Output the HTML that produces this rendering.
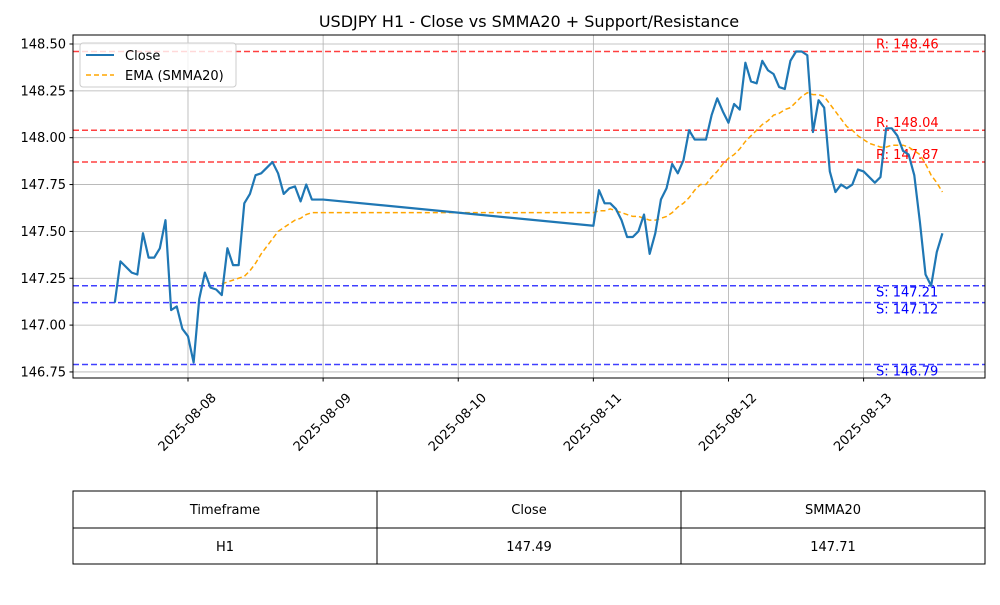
<!DOCTYPE html>
<html><head><meta charset="utf-8"><style>
body{margin:0;background:#fff;font-family:"Liberation Sans","DejaVu Sans",sans-serif}
svg text{font-family:"DejaVu Sans","Liberation Sans",sans-serif}
</style></head><body>
<svg id="chart" width="1000" height="600" viewBox="0 0 1000 600" xmlns="http://www.w3.org/2000/svg">
<rect width="1000" height="600" fill="#fff"/>
<text x="529" y="27" font-size="16" text-anchor="middle">USDJPY H1 - Close vs SMMA20 + Support/Resistance</text>
<g id="grid"></g><g id="levels"></g><g id="series"></g>
<rect x="73" y="35" width="912" height="343" fill="none" stroke="#000" stroke-width="1"/>
<g id="axes"></g>
<g>
<rect x="80" y="43" width="156" height="44" rx="3" fill="#fff" fill-opacity="0.8" stroke="#ccc"/>
<line x1="86" y1="55" x2="114" y2="55" stroke="#1f77b4" stroke-width="2"/>
<text x="125" y="60" font-size="13">Close</text>
<line x1="86" y1="75" x2="114" y2="75" stroke="orange" stroke-width="1.5" stroke-dasharray="5,3"/>
<text x="125" y="80" font-size="13">EMA (SMMA20)</text>
</g>
<g font-size="13" text-anchor="middle">
<rect x="73" y="491" width="912" height="73" fill="none" stroke="#000"/>
<line x1="73" y1="528" x2="985" y2="528" stroke="#000"/>
<line x1="377" y1="491" x2="377" y2="564" stroke="#000"/>
<line x1="681" y1="491" x2="681" y2="564" stroke="#000"/>
<text x="225" y="514">Timeframe</text>
<text x="529" y="514">Close</text>
<text x="833" y="514">SMMA20</text>
<text x="225" y="551">H1</text>
<text x="529" y="551">147.49</text>
<text x="833" y="551">147.71</text>
</g>
</svg>
<script>
const seg1Start = -13;
const seg1Close = [147.12,147.34,147.31,147.28,147.27,147.49,147.36,147.36,147.41,147.56,147.08,147.10,146.98,146.94,146.80,147.14,147.28,147.20,147.19,147.16,147.41,147.32,147.32,147.65,147.70,147.80,147.81,147.84,147.87,147.81,147.70,147.73,147.74,147.66,147.75,147.67,147.67,147.67];
const seg1Ema = [null,null,null,null,null,null,null,null,null,null,null,null,null,null,null,null,null,null,null,147.22,147.23,147.24,147.25,147.26,147.29,147.33,147.38,147.42,147.46,147.50,147.52,147.54,147.56,147.57,147.59,147.60,147.60,147.60];
const seg2Start = 72;
const seg2Close = [147.53,147.72,147.65,147.65,147.62,147.56,147.47,147.47,147.50,147.59,147.38,147.49,147.67,147.73,147.86,147.81,147.88,148.04,147.99,147.99,147.99,148.12,148.21,148.14,148.08,148.18,148.15,148.40,148.30,148.29,148.41,148.36,148.34,148.27,148.26,148.41,148.46,148.46,148.44,148.03,148.20,148.16,147.82,147.71,147.75,147.73,147.75,147.83,147.82,147.79,147.76,147.79,148.05,148.05,148.01,147.93,147.91,147.80,147.55,147.27,147.21,147.39,147.49];
const seg2Ema = [147.60,147.61,147.61,147.62,147.61,147.60,147.59,147.58,147.58,147.57,147.56,147.56,147.57,147.58,147.60,147.63,147.65,147.68,147.72,147.75,147.75,147.79,147.82,147.86,147.89,147.91,147.94,147.98,148.01,148.04,148.07,148.09,148.12,148.13,148.15,148.16,148.19,148.22,148.24,148.23,148.23,148.22,148.18,148.14,148.10,148.06,148.04,148.01,147.99,147.97,147.96,147.95,147.95,147.96,147.96,147.96,147.95,147.93,147.91,147.86,147.80,147.76,147.71];
const resistance = [148.46,148.04,147.87];
const support = [147.21,147.12,146.79];
const yTicks = [148.50,148.25,148.00,147.75,147.50,147.25,147.00,146.75];
const xTickLabels = ["2025-08-08","2025-08-09","2025-08-10","2025-08-11","2025-08-12","2025-08-13"];
const labelHour = 122.2;

const NS="http://www.w3.org/2000/svg";
const X0=73,X1=985,Y0=35,Y1=378;
function xs(h){return 188+h*5.63;}
function ys(v){return 44+(148.5-v)*187.4;}
function mk(tag,attrs,parent){const e=document.createElementNS(NS,tag);for(const k in attrs)e.setAttribute(k,attrs[k]);parent.appendChild(e);return e;}
const grid=document.getElementById('grid'),axes=document.getElementById('axes'),lev=document.getElementById('levels'),ser=document.getElementById('series');

yTicks.forEach(v=>{
  const y=ys(v);
  const g=mk('line',{x1:X0,x2:X1,y1:y,y2:y,stroke:'#b0b0b0','stroke-width':0.8},grid);
  
  
  mk('line',{x1:X0-3.5,x2:X0,y1:y,y2:y,stroke:'#000'},axes);
  const t=mk('text',{x:X0-7,y:y+4.5,'font-size':13,'text-anchor':'end'},axes);
  t.textContent=v.toFixed(2);
  
  
});
xTickLabels.forEach((lab,i)=>{
  const x=xs(i*24);
  const g=mk('line',{x1:x,x2:x,y1:Y0,y2:Y1,stroke:'#b0b0b0','stroke-width':0.8},grid);
  
  
  mk('line',{x1:x,x2:x,y1:Y1,y2:Y1+3.5,stroke:'#000'},axes);
  const cx=x-1, cy=Y1+44;
  const t=mk('text',{x:cx,y:cy+4.5,'font-size':13,'text-anchor':'middle',transform:`rotate(-45 ${cx} ${cy})`},axes);
  t.textContent=lab;
  
  
});
function level(v,color,prefix,below){
  const y=ys(v);
  const l=mk('line',{x1:X0,x2:X1,y1:y,y2:y,stroke:color,'stroke-opacity':0.75,'stroke-width':1.5,'stroke-dasharray':'6,3'},lev);
  
  
  const t=mk('text',{x:xs(labelHour),y:below?y+11:y-3,'font-size':13,fill:color},lev);
  t.textContent=prefix+': '+v.toFixed(2);
  
  
}
resistance.forEach(v=>level(v,'red','R',false));
support.forEach(v=>level(v,'blue','S',true));

function pts(start,arr){return arr.map((v,i)=>v==null?null:[xs(start+i),ys(v)]).filter(p=>p);}
const ema=pts(seg1Start,seg1Ema).concat(pts(seg2Start,seg2Ema));
const ep=mk('polyline',{points:ema.map(p=>p.join(',')).join(' '),fill:'none',stroke:'orange','stroke-width':1.5,'stroke-dasharray':'5,3'},ser);


const close=pts(seg1Start,seg1Close).concat(pts(seg2Start,seg2Close));
const cp=mk('polyline',{points:close.map(p=>p.join(',')).join(' '),fill:'none',stroke:'#1f77b4','stroke-width':2.2,'stroke-linejoin':'round'},ser);


</script>
</body></html>
